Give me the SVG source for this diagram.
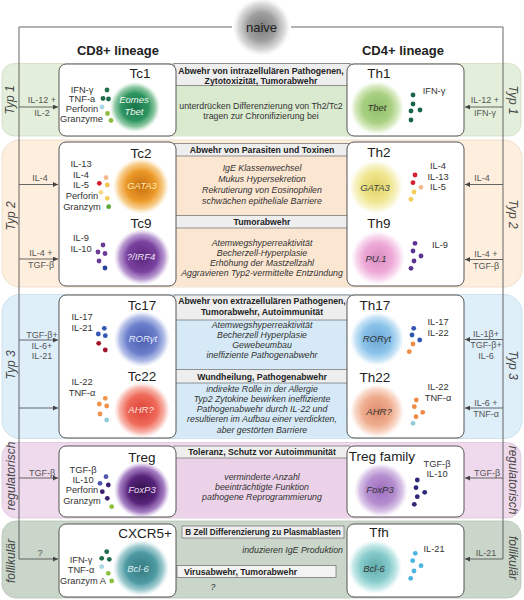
<svg xmlns="http://www.w3.org/2000/svg" width="524" height="600" viewBox="0 0 524 600">
<defs>
<style>
text{font-family:"Liberation Sans",Arial,sans-serif}
.box{fill:#fff;stroke:#555;stroke-width:1}
.title{font-size:13.5px;fill:#222;text-anchor:middle}
.cyt{font-size:9.3px;fill:#333;text-anchor:middle}
.cell{font-size:9.5px;font-style:italic;text-anchor:middle}
.hdr{font-size:8.7px;font-weight:bold;fill:#222;text-anchor:middle}
.body{font-size:8.8px;fill:#333;text-anchor:middle}
.it{font-style:italic}
.lbl{font-size:9px;fill:#555;text-anchor:middle}
.typ{font-size:12px;font-style:italic;fill:#444;text-anchor:middle}
.hbox{fill:#eeeeee;stroke:#6a6a6a;stroke-width:0.7}
.conn{stroke:#555;stroke-width:0.9;fill:none}
.lin{font-size:13px;font-weight:bold;fill:#222;text-anchor:middle}
</style>
<marker id="arr" viewBox="0 0 6 6" refX="6" refY="3" markerWidth="5" markerHeight="5" orient="auto" markerUnits="userSpaceOnUse">
<path d="M0,0 L6,3 L0,6 z" fill="#444"/>
</marker>
<radialGradient id="gNaive"><stop offset="0" stop-color="#7a7a7a"/><stop offset="0.5" stop-color="#a0a0a0"/><stop offset="0.8" stop-color="#c8c8c8" stop-opacity="0.7"/><stop offset="1" stop-color="#e0e0e0" stop-opacity="0"/></radialGradient>
<radialGradient id="gTc1"><stop offset="0" stop-color="#1a744a"/><stop offset="0.55" stop-color="#2e9561"/><stop offset="0.8" stop-color="#5cb07b" stop-opacity="0.7"/><stop offset="1" stop-color="#8cc99e" stop-opacity="0"/></radialGradient>
<radialGradient id="gTh1"><stop offset="0" stop-color="#8fbf66"/><stop offset="0.55" stop-color="#a9d083"/><stop offset="0.8" stop-color="#c2de9f" stop-opacity="0.7"/><stop offset="1" stop-color="#d8ebc0" stop-opacity="0"/></radialGradient>
<radialGradient id="gTc2"><stop offset="0" stop-color="#c66e10"/><stop offset="0.55" stop-color="#ec9a2a"/><stop offset="0.8" stop-color="#f4b656" stop-opacity="0.7"/><stop offset="1" stop-color="#f8cf8a" stop-opacity="0"/></radialGradient>
<radialGradient id="gTh2"><stop offset="0" stop-color="#e0d266"/><stop offset="0.55" stop-color="#efe690"/><stop offset="0.8" stop-color="#f5eeb0" stop-opacity="0.7"/><stop offset="1" stop-color="#f8f3c8" stop-opacity="0"/></radialGradient>
<radialGradient id="gTc9"><stop offset="0" stop-color="#5a267c"/><stop offset="0.55" stop-color="#7b43a0"/><stop offset="0.8" stop-color="#9a6cbc" stop-opacity="0.7"/><stop offset="1" stop-color="#c0a0d8" stop-opacity="0"/></radialGradient>
<radialGradient id="gTh9"><stop offset="0" stop-color="#d88cc0"/><stop offset="0.55" stop-color="#eeaad8"/><stop offset="0.8" stop-color="#f4c4e4" stop-opacity="0.7"/><stop offset="1" stop-color="#f8d8ee" stop-opacity="0"/></radialGradient>
<radialGradient id="gTc17"><stop offset="0" stop-color="#4a5cb0"/><stop offset="0.55" stop-color="#6c80cc"/><stop offset="0.8" stop-color="#90a0dc" stop-opacity="0.7"/><stop offset="1" stop-color="#b8c4ea" stop-opacity="0"/></radialGradient>
<radialGradient id="gTh17"><stop offset="0" stop-color="#6aa6d6"/><stop offset="0.55" stop-color="#8cc4ea"/><stop offset="0.8" stop-color="#aad4f0" stop-opacity="0.7"/><stop offset="1" stop-color="#c8e4f6" stop-opacity="0"/></radialGradient>
<radialGradient id="gTc22"><stop offset="0" stop-color="#dc4438"/><stop offset="0.55" stop-color="#ef6a5a"/><stop offset="0.8" stop-color="#f49284" stop-opacity="0.7"/><stop offset="1" stop-color="#f8b8b0" stop-opacity="0"/></radialGradient>
<radialGradient id="gTh22"><stop offset="0" stop-color="#de8e6e"/><stop offset="0.55" stop-color="#f0ae90"/><stop offset="0.8" stop-color="#f5c4ac" stop-opacity="0.7"/><stop offset="1" stop-color="#f8d8c8" stop-opacity="0"/></radialGradient>
<radialGradient id="gTreg"><stop offset="0" stop-color="#33104a"/><stop offset="0.5" stop-color="#57247c"/><stop offset="0.8" stop-color="#8a56b0" stop-opacity="0.75"/><stop offset="1" stop-color="#b08ad0" stop-opacity="0"/></radialGradient>
<radialGradient id="gTregF"><stop offset="0" stop-color="#9c6cbe"/><stop offset="0.55" stop-color="#b690d0"/><stop offset="0.8" stop-color="#c8aadc" stop-opacity="0.7"/><stop offset="1" stop-color="#dcc8ea" stop-opacity="0"/></radialGradient>
<radialGradient id="gCx"><stop offset="0" stop-color="#357a82"/><stop offset="0.55" stop-color="#4e9aa2"/><stop offset="0.8" stop-color="#78b6bc" stop-opacity="0.7"/><stop offset="1" stop-color="#a8d0d4" stop-opacity="0"/></radialGradient>
<radialGradient id="gTfh"><stop offset="0" stop-color="#5eaaaa"/><stop offset="0.55" stop-color="#88cccc"/><stop offset="0.8" stop-color="#a8dcdc" stop-opacity="0.7"/><stop offset="1" stop-color="#c8eaea" stop-opacity="0"/></radialGradient>
</defs>

<g id="bands">
<rect x="2" y="63.5" width="519" height="72.5" rx="12" fill="#e3efda" stroke="#cfdcc4" stroke-width="0.8"/>
<rect x="2" y="140" width="520" height="147" rx="18" fill="#fdeedd" stroke="#ead8c4" stroke-width="0.8"/>
<rect x="2" y="294.5" width="520" height="144" rx="18" fill="#deeffa" stroke="#c8dcea" stroke-width="0.8"/>
<rect x="2" y="442.5" width="519" height="75.5" rx="14" fill="#efd9ec" stroke="#dcc4d8" stroke-width="0.8"/>
<rect x="2" y="521" width="519" height="77" rx="14" fill="#c9d6c9" stroke="#b6c4b6" stroke-width="0.8"/>
<text class="typ" transform="translate(14,100) rotate(-90)">Typ 1</text>
<text class="typ" transform="translate(509,100) rotate(90)">Typ 1</text>
<text class="typ" transform="translate(15,216) rotate(-90)">Typ 2</text>
<text class="typ" transform="translate(509,214) rotate(90)">Typ 2</text>
<text class="typ" transform="translate(15,365) rotate(-90)">Typ 3</text>
<text class="typ" transform="translate(509,365) rotate(90)">Typ 3</text>
<text class="typ" transform="translate(15,476) rotate(-90)">regulatorisch</text>
<text class="typ" transform="translate(509,480) rotate(90)">regulatorisch</text>
<text class="typ" transform="translate(15,561) rotate(-90)">follikulär</text>
<text class="typ" transform="translate(509,558) rotate(90)">follikulär</text>
</g>

<g id="functions">
<rect x="174" y="85" width="176" height="50" fill="#d9eacf"/>
<rect x="174" y="63.5" width="176" height="22" class="hbox"/>
<text class="hdr" x="261" y="73.5">Abwehr von intrazellulären Pathogenen,</text>
<text class="hdr" x="261" y="83.5">Zytotoxizität, Tumorabwehr</text>
<text class="body" x="261" y="109">unterdrücken Differenzierung von Th2/Tc2</text>
<text class="body" x="261" y="119">tragen zur Chronifizierung bei</text>

<rect x="174" y="156" width="176" height="59" fill="#fbe6d2"/>
<rect x="174" y="228" width="176" height="58" fill="#fbe6d2"/>
<rect x="174" y="143.5" width="176" height="12.5" class="hbox"/>
<text class="hdr" x="262" y="152.8">Abwehr von Parasiten und Toxinen</text>
<text class="body it" x="262" y="171">IgE Klassenwechsel</text>
<text class="body it" x="262" y="182">Mukus Hypersekretion</text>
<text class="body it" x="262" y="193">Rekrutierung von Eosinophilen</text>
<text class="body it" x="262" y="204">schwächen epitheliale Barriere</text>
<rect x="174" y="215.5" width="176" height="12.5" class="hbox"/>
<text class="hdr" x="262" y="225">Tumorabwehr</text>
<text class="body it" x="262" y="246">Atemwegshyperreaktivität</text>
<text class="body it" x="262" y="256">Becherzell-Hyperplasie</text>
<text class="body it" x="262" y="266">Erhöhung der Mastzellzahl</text>
<text class="body it" x="262" y="276">Aggravieren Typ2-vermittelte Entzündung</text>

<rect x="174" y="320" width="176" height="49" fill="#d5e9f6"/>
<rect x="174" y="383" width="176" height="54" fill="#d5e9f6"/>
<rect x="174" y="295" width="176" height="25" class="hbox"/>
<text class="hdr" x="262" y="304">Abwehr von extrazellulären Pathogenen,</text>
<text class="hdr" x="262" y="314.5">Tumorabwehr, Autoimmunität</text>
<text class="body it" x="262" y="328">Atemwegshyperreaktivität</text>
<text class="body it" x="262" y="338">Becherzell Hyperplasie</text>
<text class="body it" x="262" y="348">Gewebeumbau</text>
<text class="body it" x="262" y="358">ineffiziente Pathogenabwehr</text>
<rect x="174" y="369.5" width="176" height="13.5" class="hbox"/>
<text class="hdr" x="262" y="379.5">Wundheilung, Pathogenabwehr</text>
<text class="body it" x="262" y="392">indirekte Rolle in der Allergie</text>
<text class="body it" x="262" y="402">Typ2 Zytokine bewirken ineffiziente</text>
<text class="body it" x="262" y="412">Pathogenabwehr durch IL-22 und</text>
<text class="body it" x="262" y="422">resultieren im Aufbau einer verdickten,</text>
<text class="body it" x="262" y="433">aber gestörten Barriere</text>

<rect x="174" y="458" width="176" height="58" fill="#ebd2e8"/>
<rect x="174" y="446" width="176" height="12" class="hbox"/>
<text class="hdr" x="262" y="455">Toleranz, Schutz vor Autoimmunität</text>
<text class="body it" x="262" y="480">verminderte Anzahl</text>
<text class="body it" x="262" y="490">beeinträchtigte Funktion</text>
<text class="body it" x="262" y="500">pathogene Reprogrammierung</text>

<rect x="182" y="526" width="162" height="12" class="hbox"/>
<text class="hdr" x="263" y="535" style="font-size:8.2px">B Zell Differenzierung zu Plasmablasten</text>
<text class="body it" x="343" y="553" style="text-anchor:end">induzieren IgE Produktion</text>
<rect x="177" y="565.5" width="159" height="12" class="hbox" style="fill:#f3f3f3"/>
<text class="hdr" x="184" y="574.5" style="text-anchor:start">Virusabwehr, Tumorabwehr</text>
<text class="body it" x="213" y="590">?</text>
</g>

<g id="connectors">
<path class="conn" d="M232 27 H19 V559 H58" marker-end="url(#arr)"/>
<path class="conn" d="M291 27 H503 V559 H465" marker-end="url(#arr)"/>
<line class="conn" x1="19" y1="107" x2="58" y2="107" marker-end="url(#arr)"/>
<line class="conn" x1="19" y1="184.5" x2="58" y2="184.5" marker-end="url(#arr)"/>
<line class="conn" x1="19" y1="259" x2="58" y2="259" marker-end="url(#arr)"/>
<line class="conn" x1="19" y1="340" x2="58" y2="340" marker-end="url(#arr)"/>
<line class="conn" x1="19" y1="408" x2="58" y2="408" marker-end="url(#arr)"/>
<line class="conn" x1="19" y1="478" x2="58" y2="478" marker-end="url(#arr)"/>
<line class="conn" x1="503" y1="107" x2="465" y2="107" marker-end="url(#arr)"/>
<line class="conn" x1="503" y1="184.5" x2="465" y2="184.5" marker-end="url(#arr)"/>
<line class="conn" x1="503" y1="259.5" x2="465" y2="259.5" marker-end="url(#arr)"/>
<line class="conn" x1="503" y1="339.5" x2="465" y2="339.5" marker-end="url(#arr)"/>
<line class="conn" x1="503" y1="408" x2="465" y2="408" marker-end="url(#arr)"/>
<line class="conn" x1="503" y1="478" x2="465" y2="478" marker-end="url(#arr)"/>
<path class="conn" d="M398 209 Q405 221 399 234" marker-end="url(#arr)"/>
<text class="lbl" x="42" y="103">IL-12 +</text>
<text class="lbl" x="42" y="116">IL-2</text>
<text class="lbl" x="485" y="103">IL-12 +</text>
<text class="lbl" x="485" y="116">IFN-γ</text>
<text class="lbl" x="40" y="181">IL-4</text>
<text class="lbl" x="482" y="181">IL-4</text>
<text class="lbl" x="41" y="256">IL-4 +</text>
<text class="lbl" x="41" y="268">TGF-β</text>
<text class="lbl" x="486" y="256.5">IL-4 +</text>
<text class="lbl" x="486" y="268.5">TGF-β</text>
<text class="lbl" x="42" y="338">TGF-β+</text>
<text class="lbl" x="42" y="348.5">IL-6+</text>
<text class="lbl" x="42" y="359">IL-21</text>
<text class="lbl" x="486" y="336.5">IL-1β+</text>
<text class="lbl" x="486" y="348">TGF-β+</text>
<text class="lbl" x="486" y="359">IL-6</text>
<text class="lbl" x="486" y="405.5">IL-6 +</text>
<text class="lbl" x="486" y="417">TNF-α</text>
<text class="lbl" x="42" y="476">TGF-β</text>
<text class="lbl" x="487" y="476">TGF-β</text>
<text class="lbl" x="40" y="556">?</text>
<text class="lbl" x="486" y="556">IL-21</text>
<text class="lbl" x="416" y="225">TGF-β</text>
</g>

<g id="naive">
<circle cx="261.5" cy="27" r="29" fill="url(#gNaive)"/>
<text x="261.5" y="31.5" font-size="13" fill="#222" text-anchor="middle">naive</text>
</g>

<text class="lin" x="118" y="55">CD8+ lineage</text>
<text class="lin" x="403" y="55">CD4+ lineage</text>

<g id="node-tc1">
<rect class="box" x="59" y="64" width="117" height="72" rx="7"/>
<text class="title" x="140" y="77.5">Tc1</text>
<circle cx="135" cy="107" r="25" fill="url(#gTc1)"/>
<text class="cell" x="134" y="103" fill="#eef8f0">Eomes</text>
<text class="cell" x="134" y="115" fill="#eef8f0">Tbet</text>
<text class="cyt" x="82" y="92.5">IFN-γ</text>
<text class="cyt" x="82" y="102">TNF-a</text>
<text class="cyt" x="82" y="111.5">Perforin</text>
<text class="cyt" x="81.5" y="122">Granzyme</text>
<g fill="#1f6e4b"><circle cx="107" cy="90" r="2.4"/><circle cx="103" cy="98.5" r="2.4"/><circle cx="108.5" cy="99" r="2.4"/></g>
<circle cx="102" cy="107" r="2.4" fill="#a9d6e6"/>
<g fill="#8dbf3f"><circle cx="107.5" cy="113.5" r="2.4"/><circle cx="111" cy="120.5" r="2.4"/></g>
</g>

<g id="node-th1">
<rect class="box" x="347" y="64" width="117" height="72" rx="7"/>
<text class="title" x="379" y="77.5">Th1</text>
<circle cx="377" cy="108" r="27" fill="url(#gTh1)"/>
<text class="cell" x="377" y="110.5" fill="#333">Tbet</text>
<text class="cyt" x="434" y="94">IFN-γ</text>
<g fill="#17664a"><circle cx="413" cy="95" r="2.4"/><circle cx="413" cy="104" r="2.4"/><circle cx="411" cy="111" r="2.4"/><circle cx="420" cy="110" r="2.4"/><circle cx="411" cy="120" r="2.4"/></g>
</g>

<g id="node-tc2-tc9">
<rect class="box" x="59" y="142" width="117" height="144" rx="7"/>
<text class="title" x="141" y="158">Tc2</text>
<circle cx="141" cy="186" r="28" fill="url(#gTc2)"/>
<text class="cell" x="142" y="189" fill="#fde9b0">GATA3</text>
<text class="cyt" x="81" y="167">IL-13</text>
<text class="cyt" x="81" y="177.5">IL-4</text>
<text class="cyt" x="81" y="188">IL-5</text>
<text class="cyt" x="82" y="199">Perforin</text>
<text class="cyt" x="82" y="209.5">Granzym</text>
<circle cx="99.3" cy="183.3" r="2.4" fill="#d41f2e"/>
<circle cx="106" cy="177.7" r="2.4" fill="#f2b98e"/>
<circle cx="107.3" cy="185" r="2.4" fill="#f4c24e"/>
<circle cx="101" cy="192.3" r="2.4" fill="#f7da86"/>
<circle cx="107.3" cy="198.3" r="2.4" fill="#f4cc5a"/>
<circle cx="108.7" cy="206.7" r="2.4" fill="#5aa838"/>
<text class="title" x="141" y="228">Tc9</text>
<circle cx="142" cy="257" r="28" fill="url(#gTc9)"/>
<text class="cell" x="141" y="260" fill="#f2e4fa">?/IRF4</text>
<text class="cyt" x="81" y="241">IL-9</text>
<text class="cyt" x="81" y="251.5">IL-10</text>
<g fill="#6b3b97"><circle cx="103" cy="245" r="2.4"/><circle cx="98" cy="252" r="2.4"/><circle cx="105" cy="253.5" r="2.4"/><circle cx="99" cy="261" r="2.4"/></g>
<circle cx="105" cy="268" r="2.4" fill="#27439a"/>
</g>

<g id="node-th2-th9">
<rect class="box" x="347" y="142" width="117" height="144" rx="7"/>
<text class="title" x="379" y="157">Th2</text>
<circle cx="376" cy="187" r="27" fill="url(#gTh2)"/>
<text class="cell" x="375" y="191" fill="#444">GATA3</text>
<text class="cyt" x="438" y="169">IL-4</text>
<text class="cyt" x="438" y="179.5">IL-13</text>
<text class="cyt" x="438" y="190">IL-5</text>
<g fill="#d41f2e"><circle cx="415" cy="175" r="2.4"/><circle cx="413" cy="182.7" r="2.4"/></g>
<circle cx="421" cy="187.3" r="2.4" fill="#f2b98e"/>
<g fill="#f4cc5a"><circle cx="414" cy="192" r="2.4"/><circle cx="411" cy="199.3" r="2.4"/></g>
<text class="title" x="379" y="228">Th9</text>
<circle cx="378" cy="258" r="27" fill="url(#gTh9)"/>
<text class="cell" x="376" y="261.5" fill="#333">PU.1</text>
<text class="cyt" x="440" y="248">IL-9</text>
<g fill="#5d3392"><circle cx="415" cy="243.3" r="2.4"/><circle cx="413" cy="251" r="2.4"/><circle cx="421" cy="256" r="2.4"/><circle cx="414" cy="261" r="2.4"/><circle cx="411" cy="268.3" r="2.4"/></g>
</g>

<g id="node-tc17-tc22">
<rect class="box" x="59" y="295" width="117" height="143" rx="7"/>
<text class="title" x="142" y="310">Tc17</text>
<circle cx="142" cy="339" r="28" fill="url(#gTc17)"/>
<text class="cell" x="143" y="342" fill="#e6ecff">RORγt</text>
<text class="cyt" x="82" y="320">IL-17</text>
<text class="cyt" x="82" y="331">IL-21</text>
<g fill="#3558b5"><circle cx="104.3" cy="328.3" r="2.4"/><circle cx="98.3" cy="334" r="2.4"/><circle cx="105.3" cy="335.7" r="2.4"/></g>
<g fill="#a3142a"><circle cx="98.7" cy="343.3" r="2.4"/><circle cx="105.3" cy="350" r="2.4"/></g>
<text class="title" x="142" y="381">Tc22</text>
<circle cx="142" cy="410" r="28" fill="url(#gTc22)"/>
<text class="cell" x="141" y="413" fill="#ffe4e0">AHR?</text>
<text class="cyt" x="82" y="385">IL-22</text>
<text class="cyt" x="82" y="395.5">TNF-α</text>
<g fill="#f0924a"><circle cx="105.3" cy="398.3" r="2.4"/><circle cx="99.3" cy="404" r="2.4"/><circle cx="106.7" cy="406" r="2.4"/><circle cx="100" cy="414" r="2.4"/></g>
<circle cx="106.7" cy="420" r="2.4" fill="#93ccd6"/>
</g>

<g id="node-th17-th22">
<rect class="box" x="347" y="295" width="117" height="143" rx="7"/>
<text class="title" x="375" y="310">Th17</text>
<circle cx="377" cy="339" r="27" fill="url(#gTh17)"/>
<text class="cell" x="377" y="341.5" fill="#333">RORγt</text>
<text class="cyt" x="438" y="325">IL-17</text>
<text class="cyt" x="438" y="336">IL-22</text>
<g fill="#2f55b0"><circle cx="413.7" cy="328.3" r="2.4"/><circle cx="412" cy="335" r="2.4"/><circle cx="419.7" cy="340" r="2.4"/></g>
<g fill="#ee8c45"><circle cx="413" cy="344" r="2.4"/><circle cx="409.3" cy="351.7" r="2.4"/></g>
<text class="title" x="375" y="382">Th22</text>
<circle cx="377" cy="411" r="27" fill="url(#gTh22)"/>
<text class="cell" x="379" y="415" fill="#333">AHR?</text>
<text class="cyt" x="438" y="390">IL-22</text>
<text class="cyt" x="438" y="400.5">TNF-α</text>
<g fill="#ee8c45"><circle cx="416.3" cy="400" r="2.4"/><circle cx="414.3" cy="406.7" r="2.4"/><circle cx="422.7" cy="412.3" r="2.4"/><circle cx="416" cy="416.7" r="2.4"/></g>
<circle cx="413" cy="423.3" r="2.4" fill="#93ccd6"/>
</g>

<g id="node-treg">
<rect class="box" x="59" y="446" width="117" height="71" rx="7"/>
<text class="title" x="142" y="462">Treg</text>
<circle cx="142" cy="490" r="28" fill="url(#gTreg)"/>
<text class="cell" x="142" y="493" fill="#eadcf4">FoxP3</text>
<text class="cyt" x="83" y="473">TGF-β</text>
<text class="cyt" x="83" y="482.5">IL-10</text>
<text class="cyt" x="82" y="493">Perforin</text>
<text class="cyt" x="82" y="504">Granzym</text>
<g fill="#4f55b0"><circle cx="106" cy="476.7" r="2.4"/><circle cx="100" cy="483.3" r="2.4"/></g>
<g fill="#3b1f6e"><circle cx="108.3" cy="485" r="2.4"/><circle cx="102.3" cy="491.7" r="2.4"/><circle cx="107.3" cy="498.3" r="2.4"/></g>
<circle cx="111.7" cy="506.7" r="2.4" fill="#8dc040"/>
</g>

<g id="node-treg-family">
<rect class="box" x="347" y="446" width="117" height="71" rx="7"/>
<text class="title" x="382" y="461">Treg family</text>
<circle cx="381" cy="490" r="27" fill="url(#gTregF)"/>
<text class="cell" x="380" y="493" fill="#333">FoxP3</text>
<text class="cyt" x="437" y="467">TGF-β</text>
<text class="cyt" x="437" y="477">IL-10</text>
<g fill="#2d2878"><circle cx="417.3" cy="480" r="2.4"/><circle cx="416" cy="487.7" r="2.4"/><circle cx="424.7" cy="492.3" r="2.4"/><circle cx="417.3" cy="496.7" r="2.4"/><circle cx="414.3" cy="504.3" r="2.4"/></g>
</g>

<g id="node-cxcr5">
<rect class="box" x="59" y="524" width="117" height="73" rx="7"/>
<text class="title" x="145" y="538">CXCR5+</text>
<circle cx="141" cy="568" r="28" fill="url(#gCx)"/>
<text class="cell" x="138" y="572" fill="#dcf0f2">Bcl-6</text>
<text class="cyt" x="81" y="563">IFN-γ</text>
<text class="cyt" x="81" y="572.5">TNF-α</text>
<text class="cyt" x="83" y="584">Granzym A</text>
<g fill="#1f6e4b"><circle cx="106.7" cy="551.7" r="2.4"/><circle cx="101.7" cy="558.3" r="2.4"/><circle cx="109.3" cy="559.3" r="2.4"/></g>
<circle cx="101.7" cy="566.7" r="2.4" fill="#a9d6e6"/>
<g fill="#8dbf3f"><circle cx="108.3" cy="573.3" r="2.4"/><circle cx="111.7" cy="581" r="2.4"/></g>
</g>

<g id="node-tfh">
<rect class="box" x="347" y="524" width="117" height="73" rx="7"/>
<text class="title" x="379" y="537">Tfh</text>
<circle cx="375" cy="567" r="27" fill="url(#gTfh)"/>
<text class="cell" x="374" y="572" fill="#333">Bcl-6</text>
<text class="cyt" x="434" y="552">IL-21</text>
<g fill="#4cb6e2"><circle cx="415.3" cy="553.3" r="2.4"/><circle cx="412.7" cy="560.7" r="2.4"/><circle cx="421" cy="565.7" r="2.4"/><circle cx="414" cy="571" r="2.4"/><circle cx="410.7" cy="578.3" r="2.4"/></g>
</g>
</svg>
